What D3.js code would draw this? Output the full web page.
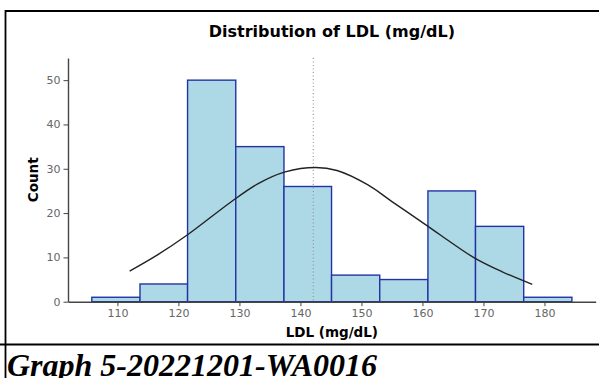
<!DOCTYPE html>
<html>
<head>
<meta charset="utf-8">
<script src="https://cdn.jsdelivr.net/npm/d3@7"></script>
<style>
  body { margin: 0; background: #fff; }
  svg { display: block; }
</style>
</head>
<body>
<svg id="chart" width="599" height="378"></svg>
<script>
// histogram bins
const binEdges = [105.8, 113.7, 121.5, 129.4, 137.3, 145.1, 153.0, 160.9, 168.7, 176.6, 184.5];
const counts = [1, 4, 50, 35, 26, 6, 5, 25, 17, 1];
// fitted curve, sampled by eye
const curveX = [112, 116.5, 121.5, 128.5, 133, 137.5, 142.5, 146, 151, 155, 160.5, 163, 168.5, 173, 178];
const curveY = [6.9, 10.5, 15.1, 22.4, 26.6, 29.3, 30.3, 29.6, 26.4, 22.6, 17.4, 15.0, 9.9, 6.8, 3.9];
const meanLDL = 142.1;
const xTicks = [110, 120, 130, 140, 150, 160, 170, 180];
const yTicks = [0, 10, 20, 30, 40, 50];

const svg = d3.select('#chart');
const plot = { left: 68, right: 595.7, top: 58, bottom: 301.7 };

const x = d3.scaleLinear().domain([101.9, 188.4]).range([plot.left, plot.right]);
const y = d3.scaleLinear().domain([0, 55]).range([plot.bottom, plot.top]);

// table cell borders
svg.append('line').attr('x1', 5).attr('x2', 599).attr('y1', 11).attr('y2', 11)
  .attr('stroke', '#000').attr('stroke-width', 2);
svg.append('line').attr('x1', 5.5).attr('x2', 5.5).attr('y1', 10).attr('y2', 378)
  .attr('stroke', '#000').attr('stroke-width', 1.8);
svg.append('line').attr('x1', 0).attr('x2', 599).attr('y1', 344.5).attr('y2', 344.5)
  .attr('stroke', '#000').attr('stroke-width', 2);

const bins = counts.map((c, i) => ({ x0: binEdges[i], x1: binEdges[i + 1], count: c }));

svg.append('g').selectAll('rect')
  .data(bins)
  .join('rect')
  .attr('x', d => x(d.x0))
  .attr('width', d => x(d.x1) - x(d.x0))
  .attr('y', d => y(d.count))
  .attr('height', d => y(0) - y(d.count))
  .attr('fill', '#add8e6')
  .attr('stroke', '#2233a8')
  .attr('stroke-width', 1.4);

// mean line
svg.append('line')
  .attr('x1', x(meanLDL)).attr('x2', x(meanLDL))
  .attr('y1', y(55)).attr('y2', y(0))
  .attr('stroke', '#888')
  .attr('stroke-width', 1)
  .attr('stroke-dasharray', '1,2.5');

const line = d3.line()
  .x((d, i) => x(curveX[i]))
  .y(d => y(d))
  .curve(d3.curveCatmullRom);
svg.append('path')
  .attr('d', line(curveY))
  .attr('fill', 'none')
  .attr('stroke', '#222')
  .attr('stroke-width', 1.4);

// axes
const axisColor = '#444';
const xAxis = svg.append('g')
  .attr('transform', `translate(0,${plot.bottom})`)
  .call(d3.axisBottom(x).tickValues(xTicks).tickSize(4.5).tickPadding(3).tickSizeOuter(0));
const yAxis = svg.append('g')
  .attr('transform', `translate(${plot.left},0)`)
  .call(d3.axisLeft(y).tickValues(yTicks).tickSize(4.5).tickPadding(3).tickSizeOuter(0));
[xAxis, yAxis].forEach(a => {
  a.select('.domain').attr('stroke', axisColor).attr('stroke-width', 1.4);
  a.selectAll('.tick line').attr('stroke', axisColor).attr('stroke-width', 1);
  a.selectAll('.tick text')
    .attr('fill', '#666')
    .style('font-family', 'DejaVu Sans')
    .style('font-size', '11px');
});

svg.append('text')
  .attr('x', (plot.left + plot.right) / 2)
  .attr('y', 37.3)
  .attr('text-anchor', 'middle')
  .style('font-family', 'DejaVu Sans')
  .style('font-weight', 'bold')
  .style('font-size', '16px')
  .text('Distribution of LDL (mg/dL)');

svg.append('text')
  .attr('x', (plot.left + plot.right) / 2)
  .attr('y', 337)
  .attr('text-anchor', 'middle')
  .style('font-family', 'DejaVu Sans')
  .style('font-weight', 'bold')
  .style('font-size', '13.5px')
  .text('LDL (mg/dL)');

svg.append('text')
  .attr('transform', `translate(37.5,${(plot.top + plot.bottom) / 2}) rotate(-90)`)
  .attr('text-anchor', 'middle')
  .style('font-family', 'DejaVu Sans')
  .style('font-weight', 'bold')
  .style('font-size', '13.5px')
  .text('Count');

svg.append('text')
  .attr('x', 7)
  .attr('y', 376)
  .style('font-family', '"Liberation Serif"')
  .style('font-weight', 'bold')
  .style('font-style', 'italic')
  .style('font-size', '32px')
  .text('Graph 5-20221201-WA0016');
</script>
</body>
</html>
